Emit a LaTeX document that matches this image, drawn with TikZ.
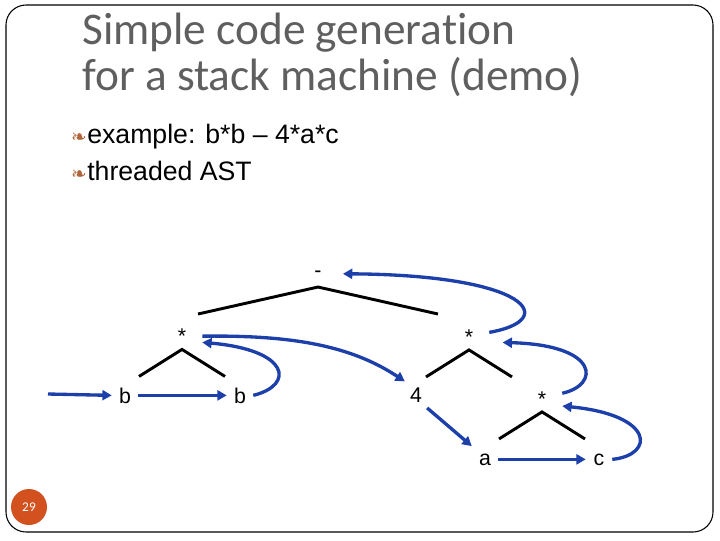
\documentclass[tikz,border=0pt]{standalone}
\usepackage{fontspec}
\setmainfont{Liberation Sans}
\newfontfamily\titlefont[Ligatures=NoCommon]{Carlito}
\newfontfamily\symfont{DejaVu Sans}
\usetikzlibrary{arrows.meta}
\definecolor{titlegrey}{HTML}{5F5F5F}
\definecolor{threadblue}{HTML}{1C3FAA}
\definecolor{dingbrown}{HTML}{B0643A}
\definecolor{badge}{HTML}{D2511F}

\begin{document}
\begin{tikzpicture}[
  x=0.75pt, y=-0.75pt,
  op/.style={font=\fontsize{16}{19}\selectfont, inner sep=0pt, minimum width=30pt, minimum height=19.5pt, anchor=base},
  leaf/.style={font=\fontsize{16}{19}\selectfont, inner sep=0pt, minimum width=19.5pt, minimum height=19.5pt, anchor=base},
  bullet/.style={anchor=base west, inner sep=0pt, font=\fontsize{20}{24}\selectfont},
  dingbat/.style={anchor=base east, inner sep=0pt, text=dingbrown, font=\symfont\fontsize{14}{14}\selectfont},
  branch/.style={draw=black, line width=2.2pt},
  thread/.style={->, draw=threadblue, line width=2.5pt},
  >={Triangle[length=7pt, width=7.5pt]}
]
\useasboundingbox (0,0) rectangle (720,540);
\draw[rounded corners=15pt, line width=0.8pt] (6,5) rectangle (713,532);

% title and bullets
\node[anchor=base west, inner sep=0pt, align=left, text=titlegrey, font=\titlefont\fontsize{34}{34}\selectfont] (title) at (82,90) {Simple code generation\\for a stack machine (demo)};
\node[bullet] (example) at (87,143) {example: b*b – 4*a*c};
\node[bullet] (threaded) at (87,180) {threaded AST};
\node[dingbat] (exdot) at (example.base west) {❧};
\node[dingbat] (thrdot) at (threaded.base west) {❧};

% the tree
\node[op] (minus) at (318,277) {-};
\node[op] (mulL) at (182,343.5) {*};
\node[op] (mulR) at (469,344) {*};
\node[op] (mulLow) at (542,406) {*};
\node[leaf] (b1) at (125,403) {b};
\node[leaf] (b2) at (240,403) {b};
\node[leaf] (four) at (416,402) {4};
\node[leaf] (a) at (485,465) {a};
\node[leaf] (c) at (599,465) {c};
\coordinate (entry) at (48,394);

\foreach \n/\w in {minus/120, mulL/43, mulR/43, mulLow/43}
  \draw[branch] (\n.south) +(-\w,27) -- (\n.south) -- +(\w,27);

% threading
\draw[thread] (entry) -- (b1.west);
\draw[thread] (b1.east) -- (b2.west);
\draw[thread] (b2.east) .. controls (295,385) and (290,350) .. (mulL.-17);
\draw[thread] (mulL.east) .. controls (290,335) and (350,345) .. (four.130);
\draw[thread] (four.-50) -- (a.north west);
\draw[thread] (a.east) -- (c.west);
\draw[thread] (c.east) .. controls (655,455) and (655,415) .. (mulLow.-20);
\draw[thread, shorten >=10pt] (mulLow.15) .. controls (600,385) and (600,345) .. (mulR.-15);
\draw[thread, shorten >=3.5pt] (mulR.12) .. controls (560,320) and (530,275) .. (minus.east);

\node[circle, fill=badge, minimum size=27pt, inner sep=0pt, text=white, font=\titlefont\fontsize{10}{10}\selectfont] (slideno) at (29,507) {29};
\end{tikzpicture}
\end{document}
